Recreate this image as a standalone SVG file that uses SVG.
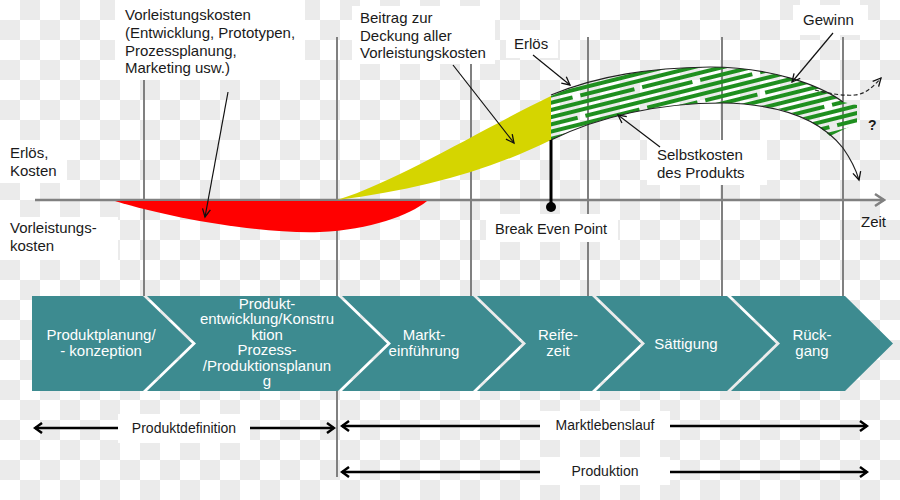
<svg xmlns="http://www.w3.org/2000/svg" width="900" height="500" viewBox="0 0 900 500">
<style>
  .t { font-family: "Liberation Sans", Arial, sans-serif; font-size: 15px; fill: #1a1a1a; }
  .tb { font-family: "Liberation Sans", Arial, sans-serif; font-size: 14px; fill: #1a1a1a; text-anchor: middle; }
  .ct { font-family: "Liberation Sans", Arial, sans-serif; font-size: 15px; fill: #ffffff; text-anchor: middle; }
  .grid { stroke: #808080; stroke-width: 2; fill: none; }
  .box { fill: #ffffff; }
  .ann { stroke: #111; stroke-width: 1.2; fill: none; marker-end: url(#ah); }
  .chev { fill: #3d8b90; }
  .span { stroke: #000; stroke-width: 2.5; fill: none; marker-start: url(#bh); marker-end: url(#bh); }
</style>
<defs>
  <pattern id="checker" width="40" height="40" patternUnits="userSpaceOnUse">
    <rect width="40" height="40" fill="#ffffff"/>
    <rect x="20" y="0" width="20" height="20" fill="#ebebeb"/>
    <rect x="0" y="20" width="20" height="20" fill="#ebebeb"/>
  </pattern>
  <pattern id="hatch" width="180" height="21" patternUnits="userSpaceOnUse" patternTransform="rotate(-14)">
    <rect x="0" y="0" width="172" height="4" fill="#1f8f1f"/>
    <rect x="0" y="7" width="54" height="4" fill="#1f8f1f"/>
    <rect x="62" y="7" width="118" height="4" fill="#1f8f1f"/>
    <rect x="0" y="14" width="112" height="4" fill="#1f8f1f"/>
    <rect x="120" y="14" width="60" height="4" fill="#1f8f1f"/>
  </pattern>
  <clipPath id="hclip">
    <path d="M551,96 C600,75 650,68 710,67 C770,67 820,85 843,102 L857,105 L857,123 L830,136 C815,122 790,104 722,103 C660,103 600,116 551,140 Z"/>
  </clipPath>
  <marker id="ah" viewBox="-10 -6 12 12" refX="0" refY="0" markerWidth="12" markerHeight="12" markerUnits="userSpaceOnUse" orient="auto">
    <path d="M-8,-4 L0,0 L-8,4" fill="none" stroke="#111" stroke-width="1.3"/>
  </marker>
  <marker id="bh" viewBox="-10 -6 12 12" refX="0" refY="0" markerWidth="12" markerHeight="12" markerUnits="userSpaceOnUse" orient="auto-start-reverse">
    <path d="M-7,-5 L0,0 L-7,5" fill="none" stroke="#000" stroke-width="2.5"/>
  </marker>
  <marker id="gh" viewBox="-12 -8 14 16" refX="0" refY="0" markerWidth="14" markerHeight="16" markerUnits="userSpaceOnUse" orient="auto">
    <path d="M-9,-6 L0,0 L-9,6" fill="none" stroke="#808080" stroke-width="2.5"/>
  </marker>
</defs>

<rect width="900" height="500" fill="url(#checker)"/>

<g id="grid">
  <line class="grid" x1="144" y1="37" x2="144" y2="296"/>
  <line class="grid" x1="337" y1="37" x2="337" y2="477"/>
  <line class="grid" x1="471" y1="37" x2="471" y2="296"/>
  <line class="grid" x1="588" y1="37" x2="588" y2="296"/>
  <line class="grid" x1="722" y1="37" x2="722" y2="296"/>
  <line class="grid" x1="843" y1="37" x2="843" y2="296"/>
  <line x1="35" y1="200" x2="884" y2="200" stroke="#808080" stroke-width="2.5" marker-end="url(#gh)"/>
</g>

<g id="curves">
  <path id="red" d="M115,201 L427,201 C410,215 370,230 320,232 C260,234 170,218 115,201 Z" fill="#ff0000"/>
  <path id="yellow" d="M337,200 C400,180 480,130 551,96 L551,140 C490,170 420,190 337,200 Z" fill="#d5d500"/>
  <rect x="540" y="60" width="330" height="90" fill="url(#hatch)" clip-path="url(#hclip)"/>
  <path d="M551,95 C600,75 650,68 710,67 C770,67 820,85 843,102" fill="none" stroke="#222" stroke-width="1.2"/>
  <path d="M551,140 C600,116 660,103 722,103 C790,104 825,125 843,148 C850,158 855,166 859,180" fill="none" stroke="#222" stroke-width="1.2" marker-end="url(#ah)"/>
  <path d="M815,90 C830,94 845,96 855,95 C865,94 872,88 881,78" fill="none" stroke="#222" stroke-width="1.2" stroke-dasharray="4,2.5" marker-end="url(#ah)"/>
  <line x1="551" y1="140" x2="551" y2="207" stroke="#000" stroke-width="3"/>
  <circle cx="551" cy="207" r="5" fill="#000"/>
</g>

<g id="label-vorleistungskosten">
  <rect class="box" x="115" y="0" width="190" height="80"/>
  <text class="t" x="125" y="20">Vorleistungskosten</text>
  <text class="t" x="125" y="38">(Entwicklung, Prototypen,</text>
  <text class="t" x="125" y="55.5">Prozessplanung,</text>
  <text class="t" x="125" y="73">Marketing usw.)</text>
</g>
<g id="label-beitrag">
  <rect class="box" x="352" y="6" width="143" height="58"/>
  <text class="t" x="360" y="23">Beitrag zur</text>
  <text class="t" x="360" y="40.5">Deckung aller</text>
  <text class="t" x="360" y="58">Vorleistungskosten</text>
</g>
<g id="label-erloes">
  <rect class="box" x="506" y="30" width="52" height="28"/>
  <text class="t" x="514" y="49">Erlös</text>
</g>
<g id="label-gewinn">
  <rect class="box" x="793" y="5" width="75" height="30"/>
  <text class="t" x="803" y="25">Gewinn</text>
</g>
<g id="label-selbstkosten">
  <rect class="box" x="647" y="140" width="120" height="45"/>
  <text class="t" x="657" y="160">Selbstkosten</text>
  <text class="t" x="657" y="177.5">des Produkts</text>
</g>
<g id="label-erloes-kosten">
  <rect class="box" x="0" y="140" width="67" height="43"/>
  <text class="t" x="10" y="158">Erlös,</text>
  <text class="t" x="10" y="175.5">Kosten</text>
</g>
<g id="label-vorleistungs">
  <rect class="box" x="0" y="217" width="118" height="43"/>
  <text class="t" x="10" y="233">Vorleistungs-</text>
  <text class="t" x="10" y="251">kosten</text>
</g>
<g id="label-break-even">
  <rect class="box" x="486" y="214" width="132" height="28"/>
  <text class="t" x="495" y="234" style="font-size:14.5px">Break Even Point</text>
</g>
<g id="label-zeit">
  <text class="t" x="861" y="227">Zeit</text>
</g>
<g id="label-question">
  <text class="t" x="868" y="130" style="font-weight:bold;font-size:14px">?</text>
</g>

<g id="connectors">
  <line class="ann" x1="228" y1="92" x2="205" y2="217"/>
  <line class="ann" x1="453" y1="65" x2="514" y2="143"/>
  <line class="ann" x1="533" y1="55" x2="570" y2="85"/>
  <line class="ann" x1="833" y1="33" x2="792" y2="82"/>
  <line class="ann" x1="660" y1="147" x2="618" y2="115"/>
</g>

<g id="phase-1">
  <polygon class="chev" points="32,296 143,296 192,343.5 143,391 32,391"/>
  <text class="ct" x="101" y="340">Produktplanung/</text>
  <text class="ct" x="101" y="355.5">- konzeption</text>
</g>
<g id="phase-2">
  <polygon class="chev" points="147,296 338,296 387,343.5 338,391 147,391 196,343.5"/>
  <text class="ct" x="267" y="308.5">Produkt-</text>
  <text class="ct" x="267" y="324">entwicklung/Konstru</text>
  <text class="ct" x="267" y="339.5">ktion</text>
  <text class="ct" x="267" y="355">Prozess-</text>
  <text class="ct" x="267" y="370.5">/Produktionsplanun</text>
  <text class="ct" x="267" y="386">g</text>
</g>
<g id="phase-3">
  <polygon class="chev" points="342,296 473,296 522,343.5 473,391 342,391 391,343.5"/>
  <text class="ct" x="424" y="340">Markt-</text>
  <text class="ct" x="424" y="355.5">einführung</text>
</g>
<g id="phase-4">
  <polygon class="chev" points="477,296 592,296 641,343.5 592,391 477,391 526,343.5"/>
  <text class="ct" x="558" y="340">Reife-</text>
  <text class="ct" x="558" y="355.5">zeit</text>
</g>
<g id="phase-5">
  <polygon class="chev" points="596,296 727,296 776,343.5 727,391 596,391 645,343.5"/>
  <text class="ct" x="686" y="348.5">Sättigung</text>
</g>
<g id="phase-6">
  <polygon class="chev" points="731,296 845,296 893,343.5 845,391 731,391 780,343.5"/>
  <text class="ct" x="812" y="340">Rück-</text>
  <text class="ct" x="812" y="355.5">gang</text>
</g>

<g id="spans">
  <line class="span" x1="35" y1="428" x2="334" y2="428"/>
  <line class="span" x1="342" y1="426" x2="867" y2="426"/>
  <line class="span" x1="342" y1="472" x2="867" y2="472"/>
</g>
<g id="span-produktdefinition">
  <rect class="box" x="118" y="414" width="132" height="29"/>
  <text class="tb" x="184" y="433">Produktdefinition</text>
</g>
<g id="span-marktlebenslauf">
  <rect class="box" x="540" y="411" width="130" height="29"/>
  <text class="tb" x="605" y="430">Marktlebenslauf</text>
</g>
<g id="span-produktion">
  <rect class="box" x="540" y="457" width="130" height="28"/>
  <text class="tb" x="605" y="476">Produktion</text>
</g>
</svg>
